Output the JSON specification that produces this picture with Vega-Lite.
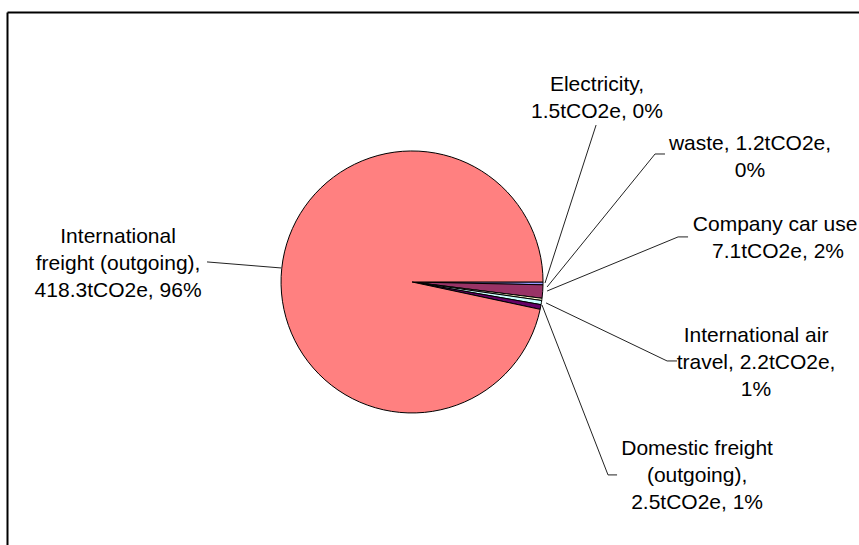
{
  "$schema": "https://vega.github.io/schema/vega-lite/v6.json",
  "width": 852,
  "height": 533,
  "padding": {"left": 7, "top": 12, "right": 0, "bottom": 0},
  "autosize": {"type": "none"},
  "background": "white",
  "config": {"view": {"stroke": null}},
  "datasets": {
    "slices": [
      {"name": "Electricity", "value": 1.5, "ord": 1},
      {"name": "Company car use", "value": 7.1, "ord": 2},
      {"name": "waste", "value": 1.2, "ord": 3},
      {"name": "International air travel", "value": 2.2, "ord": 4},
      {"name": "Domestic freight (outgoing)", "value": 2.5, "ord": 5},
      {"name": "International freight (outgoing)", "value": 418.3, "ord": 6}
    ],
    "labels": [
      {"text": "Electricity,\n1.5tCO2e, 0%", "lx": 1.412, "ly": 1.5},
      {"text": "waste, 1.2tCO2e,\n0%", "lx": 2.58, "ly": 1.053},
      {"text": "Company car use,\n7.1tCO2e, 2%", "lx": 2.794, "ly": 0.435},
      {"text": "International air\ntravel, 2.2tCO2e,\n1%", "lx": 2.626, "ly": -0.412},
      {"text": "Domestic freight\n(outgoing),\n2.5tCO2e, 1%", "lx": 2.176, "ly": -1.275},
      {"text": "International\nfreight (outgoing),\n418.3tCO2e, 96%", "lx": -2.244, "ly": 0.344}
    ],
    "leaders": [
      {"name": "Electricity", "seq": 1, "lx": 1.405, "ly": 1.198},
      {"name": "Electricity", "seq": 2, "lx": 1.015, "ly": -0.008},
      {"name": "waste", "seq": 1, "lx": 1.931, "ly": 0.977},
      {"name": "waste", "seq": 2, "lx": 1.855, "ly": 0.977},
      {"name": "waste", "seq": 3, "lx": 1.031, "ly": -0.038},
      {"name": "Company car use", "seq": 1, "lx": 2.107, "ly": 0.344},
      {"name": "Company car use", "seq": 2, "lx": 2.031, "ly": 0.344},
      {"name": "Company car use", "seq": 3, "lx": 1.031, "ly": -0.069},
      {"name": "International air travel", "seq": 1, "lx": 2.023, "ly": -0.603},
      {"name": "International air travel", "seq": 2, "lx": 1.947, "ly": -0.603},
      {"name": "International air travel", "seq": 3, "lx": 1.023, "ly": -0.16},
      {"name": "Domestic freight (outgoing)", "seq": 1, "lx": 1.565, "ly": -1.473},
      {"name": "Domestic freight (outgoing)", "seq": 2, "lx": 1.496, "ly": -1.473},
      {"name": "Domestic freight (outgoing)", "seq": 3, "lx": 0.992, "ly": -0.176},
      {"name": "International freight (outgoing)", "seq": 1, "lx": -1.565, "ly": 0.153},
      {"name": "International freight (outgoing)", "seq": 2, "lx": -1.0, "ly": 0.107}
    ]
  },
  "layer": [
    {
      "data": {"name": "slices"},
      "mark": {"type": "arc", "outerRadius": 131, "stroke": "black", "strokeWidth": 1},
      "encoding": {
        "x": {"datum": 0, "type": "quantitative", "scale": {"domain": [-3.092, 3.412], "nice": false, "zero": false}, "axis": {"orient": "top", "domain": true, "domainColor": "black", "domainWidth": 2, "ticks": false, "labels": false, "grid": false, "title": null}},
        "y": {"datum": 0, "type": "quantitative", "scale": {"domain": [-2.008, 2.061], "nice": false, "zero": false}, "axis": {"orient": "left", "domain": true, "domainColor": "black", "domainWidth": 2, "ticks": false, "labels": false, "grid": false, "title": null}},
        "theta": {"field": "value", "type": "quantitative", "stack": true, "scale": {"range": [1.5708, 7.854]}},
        "order": {"field": "ord", "type": "quantitative"},
        "color": {"field": "name", "type": "nominal", "legend": null,
          "scale": {"domain": ["Electricity", "Company car use", "waste", "International air travel", "Domestic freight (outgoing)", "International freight (outgoing)"],
                    "range": ["#9999FF", "#993366", "#FFFFCC", "#CCFFFF", "#660066", "#FF8080"]}}
      }
    },
    {
      "data": {"name": "leaders"},
      "mark": {"type": "line", "color": "#222222", "strokeWidth": 1},
      "encoding": {
        "x": {"field": "lx", "type": "quantitative", "scale": {"domain": [-3.092, 3.412], "nice": false, "zero": false}, "axis": {"orient": "top", "domain": true, "domainColor": "black", "domainWidth": 2, "ticks": false, "labels": false, "grid": false, "title": null}},
        "y": {"field": "ly", "type": "quantitative", "scale": {"domain": [-2.008, 2.061], "nice": false, "zero": false}, "axis": {"orient": "left", "domain": true, "domainColor": "black", "domainWidth": 2, "ticks": false, "labels": false, "grid": false, "title": null}},
        "detail": {"field": "name", "type": "nominal"},
        "order": {"field": "seq", "type": "quantitative"}
      }
    },
    {
      "data": {"name": "labels"},
      "mark": {"type": "text", "font": "Liberation Sans", "fontSize": 21, "lineHeight": 27, "lineBreak": "\n", "align": "center", "baseline": "middle", "color": "black"},
      "encoding": {
        "x": {"field": "lx", "type": "quantitative", "scale": {"domain": [-3.092, 3.412], "nice": false, "zero": false}, "axis": {"orient": "top", "domain": true, "domainColor": "black", "domainWidth": 2, "ticks": false, "labels": false, "grid": false, "title": null}},
        "y": {"field": "ly", "type": "quantitative", "scale": {"domain": [-2.008, 2.061], "nice": false, "zero": false}, "axis": {"orient": "left", "domain": true, "domainColor": "black", "domainWidth": 2, "ticks": false, "labels": false, "grid": false, "title": null}},
        "text": {"field": "text", "type": "nominal"}
      }
    }
  ]
}
